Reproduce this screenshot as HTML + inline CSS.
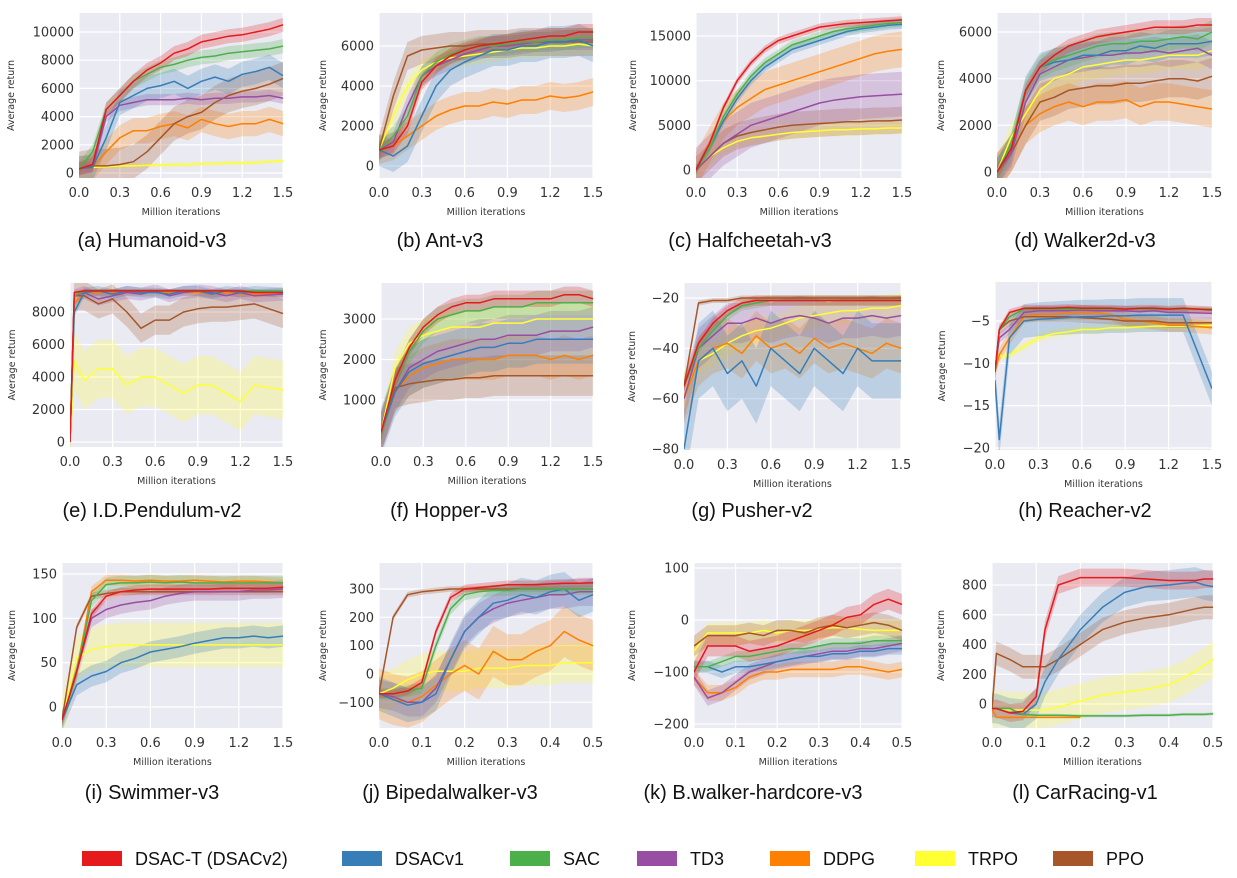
<!DOCTYPE html>
<html><head><meta charset="utf-8">
<style>
html,body{margin:0;padding:0;background:#fff;}
svg{display:block;font-family:"DejaVu Sans","Liberation Sans",sans-serif;}
</style></head>
<body>
<svg id="fig" width="1237" height="878" viewBox="0 0 1237 878" xmlns="http://www.w3.org/2000/svg"></svg>
<script>
// ---- shared x grids ----
const X15 = [0,0.1,0.2,0.3,0.4,0.5,0.6,0.7,0.8,0.9,1.0,1.1,1.2,1.3,1.4,1.5];
const X05 = [0,0.033,0.067,0.1,0.133,0.167,0.2,0.233,0.267,0.3,0.333,0.367,0.4,0.433,0.467,0.5];
const XE = [0,0.03,0.1,0.2,0.3,0.4,0.5,0.6,0.7,0.8,0.9,1.0,1.1,1.2,1.3,1.5];
const XL = [0,0.01,0.04,0.07,0.1,0.12,0.15,0.2,0.25,0.3,0.35,0.4,0.43,0.46,0.48,0.5];
const TICKS15 = [0,0.3,0.6,0.9,1.2,1.5];
const TICKS05 = [0,0.1,0.2,0.3,0.4,0.5];
const seriesNames = ["DSAC-T (DSACv2)","DSACv1","SAC","TD3","DDPG","TRPO","PPO"];
const seriesKeys = ["red","blue","green","purple","orange","yellow","brown"];

// (a) Humanoid
const a_red=[300,600,4500,5500,6500,7300,7800,8500,8800,9300,9500,9700,9800,10000,10200,10500];
const a_blue=[300,400,2500,5000,5500,6000,6200,6500,6000,6500,6800,6500,7000,7200,7500,6900];
const a_green=[300,1500,4500,5500,6500,7000,7500,7700,8000,8200,8300,8500,8600,8700,8800,9000];
const a_purple=[300,400,4000,4800,5000,5200,5200,5200,5300,5200,5300,5300,5400,5400,5500,5300];
const a_orange=[300,400,1500,2500,3000,3000,3300,3500,3200,3800,3500,3300,3500,3500,3800,3500];
const a_yellow=[300,400,450,500,500,550,550,600,600,650,650,700,700,750,800,850];
const a_brown=[300,500,500,600,800,1500,2500,3500,4000,4300,5000,5500,5800,6000,6300,6700];
const a_band=[500,900,500,400,900,150,1200];
const a_yticks=[0,2000,4000,6000,8000,10000];
// (b) Ant
const b_red=[800,1000,2000,4200,5000,5500,5800,6000,6100,6200,6300,6400,6500,6500,6700,6700];
const b_blue=[800,500,1000,2500,4000,4800,5200,5500,5800,5800,6000,6000,6200,6200,6300,6000];
const b_green=[800,1500,2500,4500,5200,5600,5800,6000,6000,6100,6200,6200,6300,6300,6400,6400];
const b_purple=[800,1200,3000,4500,5000,5300,5600,5800,6000,6000,6100,6200,6200,6300,6300,6300];
const b_orange=[800,1000,1500,2000,2500,2800,3000,3000,3200,3100,3300,3300,3500,3400,3500,3700];
const b_yellow=[800,2500,4000,4800,5200,5400,5500,5600,5700,5800,5900,5900,6000,6000,6100,6000];
const b_brown=[800,3500,5500,5800,5900,6000,6000,6100,6100,6100,6200,6200,6200,6200,6200,6200];
const b_band=[400,800,500,500,700,500,700];
const b_yticks=[0,2000,4000,6000];
// (c) Halfcheetah
const c_red=[0,3000,7000,10000,12000,13500,14500,15000,15500,16000,16200,16400,16500,16600,16700,16800];
const c_blue=[0,2500,5500,8000,10000,11500,12500,13500,14000,14500,15000,15500,15800,16000,16200,16300];
const c_green=[0,2500,6000,8500,10500,12000,13000,14000,14500,15000,15500,15800,16000,16200,16400,16500];
const c_purple=[0,1500,3000,4000,5000,5500,6000,6500,7000,7500,7800,8000,8200,8300,8400,8500];
const c_orange=[0,2800,5500,7000,8000,9000,9500,10000,10500,11000,11500,12000,12500,13000,13300,13500];
const c_yellow=[0,1500,2500,3200,3600,3800,4000,4200,4300,4400,4500,4500,4600,4600,4700,4700];
const c_brown=[0,1500,3000,3800,4200,4500,4800,5000,5100,5200,5300,5400,5400,5500,5500,5600];
const c_band=[400,500,500,2500,2000,700,1500];
const c_yticks=[0,5000,10000,15000];
// (d) Walker2d
const d_red=[0,1000,3500,4500,5000,5400,5600,5800,5900,6000,6100,6200,6200,6200,6300,6300];
const d_blue=[0,1000,3500,4500,4700,4800,5000,5000,5200,5200,5400,5300,5500,5500,5500,5600];
const d_green=[0,1200,3500,4500,4800,5000,5200,5400,5500,5500,5600,5600,5700,5800,5700,6000];
const d_purple=[0,800,3000,4200,4500,4800,4900,5000,5000,5100,5100,5200,5100,5200,5300,5000];
const d_orange=[0,800,2000,2500,2800,3000,2800,3000,3000,3100,2800,3000,3000,2900,2800,2700];
const d_yellow=[0,1500,2500,3500,4000,4200,4500,4600,4700,4800,4800,4900,5000,5000,5000,5200];
const d_brown=[0,800,2000,3000,3200,3500,3600,3700,3700,3800,3800,3900,4000,4000,3900,4100];
const d_band=[300,600,500,600,800,600,800];
const d_yticks=[0,2000,4000,6000];
// (e) I.D.Pendulum
const e_red=[0,9200,9300,9300,9300,9300,9300,9300,9300,9300,9300,9300,9300,9300,9200,9200];
const e_blue=[0,8000,9200,9300,9100,9300,9200,9200,9100,9300,9300,9100,9300,9200,9300,9200];
const e_green=[0,9000,9300,9300,9300,9300,9300,9300,9300,9300,9300,9300,9300,9300,9300,9300];
const e_purple=[0,9000,9200,8800,9000,9200,9100,9300,9000,9200,9300,9200,9000,9200,9000,9100];
const e_orange=[0,8500,9200,9200,9200,9200,9200,9200,9200,9200,9200,9100,9200,9100,9100,9100];
const e_yellow=[0,5000,3800,4500,4500,3500,4000,4000,3500,3000,3500,3500,3000,2500,3500,3200];
const e_brown=[0,9000,9000,8500,8800,8000,7000,7500,7500,8000,8200,8300,8300,8400,8500,7900];
const e_band=[100,300,100,400,200,1800,900];
const e_yticks=[0,2000,4000,6000,8000];
// (f) Hopper
const f_red=[200,1500,2300,2800,3100,3300,3400,3400,3500,3500,3500,3500,3500,3600,3600,3500];
const f_blue=[200,1200,1700,1900,2000,2100,2200,2300,2300,2400,2400,2500,2500,2500,2500,2500];
const f_green=[200,1500,2200,2700,3000,3100,3200,3200,3300,3300,3300,3400,3400,3400,3400,3400];
const f_purple=[200,1200,1800,2000,2200,2300,2400,2500,2500,2600,2600,2600,2700,2700,2700,2800];
const f_orange=[200,1200,1600,1800,1900,2000,2000,2000,2000,2100,2100,2100,2000,2100,2000,2100];
const f_yellow=[200,1800,2400,2600,2700,2800,2800,2800,2900,2900,2900,3000,3000,3000,3000,3000];
const f_brown=[200,1300,1400,1450,1500,1500,1550,1550,1600,1600,1600,1600,1600,1600,1600,1600];
const f_band=[200,600,300,500,500,400,500];
const f_yticks=[1000,2000,3000];
// (g) Pusher
const g_red=[-55,-38,-30,-25,-22,-21,-21,-21,-21,-21,-21,-21,-21,-21,-21,-21];
const g_blue=[-80,-45,-40,-50,-45,-55,-40,-45,-50,-40,-45,-50,-40,-45,-45,-45];
const g_green=[-55,-40,-33,-27,-23,-22,-21,-21,-21,-21,-21,-21,-21,-21,-21,-21];
const g_purple=[-60,-40,-35,-30,-30,-28,-30,-28,-27,-28,-30,-28,-28,-27,-28,-27];
const g_orange=[-60,-45,-40,-38,-42,-35,-40,-38,-42,-36,-40,-38,-40,-42,-38,-40];
const g_yellow=[-60,-45,-42,-38,-35,-33,-32,-30,-28,-27,-26,-25,-25,-24,-24,-23];
const g_brown=[-55,-22,-21,-21,-20,-20,-20,-20,-20,-20,-20,-20,-20,-20,-20,-20];
const g_band=[2,15,2,8,10,5,1];
const g_yticks=[-80,-60,-40,-20];
// (h) Reacher
const h_red=[-11,-6,-4,-3.5,-3.5,-3.5,-3.4,-3.5,-3.5,-3.5,-3.6,-3.5,-3.5,-3.6,-3.5,-3.7];
const h_blue=[-12,-19,-7,-5,-4.8,-4.7,-4.6,-4.5,-4.5,-4.4,-4.4,-4.3,-4.3,-4.3,-4.3,-13];
const h_green=[-11,-6,-4.5,-3.6,-3.6,-3.6,-3.6,-3.6,-3.6,-3.6,-3.6,-3.6,-3.6,-3.6,-3.6,-3.6];
const h_purple=[-11,-7,-6,-4,-3.8,-3.8,-3.8,-3.7,-3.8,-3.8,-3.8,-3.9,-3.8,-4,-4,-4.1];
const h_orange=[-11,-9,-7,-4.5,-4.2,-4.2,-4,-4,-4,-4.2,-4.8,-5,-5.2,-5.5,-5.5,-5.8];
const h_yellow=[-10,-9.2,-9,-8,-7,-6.5,-6.3,-6,-6,-5.8,-5.8,-5.7,-5.6,-5.6,-5.6,-5.5];
const h_brown=[-11,-6,-5,-4.5,-4.5,-4.5,-4.5,-4.6,-4.7,-4.8,-5,-5,-5,-5.2,-5.2,-5.2];
const h_band=[0.4,2,0.3,0.6,0.8,0.5,0.6];
const h_yticks=[-20,-15,-10,-5];
// (i) Swimmer
const i_red=[-15,40,105,125,130,132,133,133,133,133,133,134,134,134,134,135];
const i_blue=[-15,25,35,40,50,55,62,65,68,72,75,78,78,80,78,80];
const i_green=[-15,40,120,138,140,140,141,140,141,140,140,140,140,140,140,140];
const i_purple=[-15,40,100,110,115,118,120,125,128,130,130,130,130,132,132,133];
const i_orange=[-15,40,130,143,143,142,143,142,142,143,142,141,142,142,141,140];
const i_yellow=[-15,55,65,68,70,70,70,70,70,70,70,70,70,70,70,70];
const i_brown=[-15,90,125,128,130,130,130,130,130,130,130,130,130,130,130,130];
const i_band=[5,12,8,10,6,25,4];
const i_yticks=[0,50,100,150];
// (j) Bipedalwalker
const j_red=[-70,-70,-60,-30,150,270,300,305,310,315,315,315,318,320,320,322];
const j_blue=[-70,-90,-110,-100,-70,50,150,200,250,260,280,270,290,300,260,280];
const j_green=[-70,-70,-60,-50,100,230,280,290,295,295,300,300,300,300,300,300];
const j_purple=[-70,-80,-100,-100,-50,50,150,200,230,250,260,270,280,280,290,290];
const j_orange=[-70,-90,-100,-80,-40,0,30,0,80,50,50,80,100,150,120,100];
const j_yellow=[-70,-50,-20,0,10,10,10,20,20,20,30,30,30,40,40,40];
const j_brown=[-70,200,280,290,295,300,300,300,300,300,300,300,300,300,300,300];
const j_band=[15,60,20,50,90,70,10];
const j_yticks=[-100,0,100,200,300];
// (k) B.walker-hardcore
const k_red=[-100,-50,-50,-50,-60,-55,-50,-40,-30,-20,-10,5,10,30,40,30];
const k_blue=[-90,-90,-100,-90,-90,-85,-80,-75,-70,-70,-65,-65,-60,-60,-55,-55];
const k_green=[-90,-90,-80,-70,-70,-65,-60,-55,-55,-50,-45,-45,-45,-40,-40,-40];
const k_purple=[-110,-150,-140,-120,-100,-90,-80,-75,-70,-65,-60,-60,-55,-55,-50,-45];
const k_orange=[-110,-140,-140,-130,-110,-100,-100,-95,-95,-95,-95,-90,-90,-95,-100,-95];
const k_yellow=[-60,-25,-25,-25,-25,-20,-25,-20,-20,-18,-15,-15,-18,-20,-20,-20];
const k_brown=[-50,-30,-30,-30,-25,-30,-20,-20,-25,-15,-10,-15,-10,-5,-10,-20];
const k_band=[20,12,10,15,15,20,20];
const k_yticks=[-200,-100,0,100];
// (l) CarRacing
const l_red=[-30,-30,-60,-50,50,500,800,850,850,850,840,830,830,830,840,840];
const l_blue=[-30,-30,-60,-70,0,150,300,500,650,750,790,800,810,820,800,790];
const l_green=[-30,-30,-30,-70,-75,-75,-75,-80,-80,-80,-75,-75,-70,-70,-70,-65];
const l_purple=[null,null,null,null,null,null,null,null,null,null,null,null,null,null,null,null];
const l_orange=[-30,-90,-90,-90,-90,-90,-90,-90,null,null,null,null,null,null,null,null];
const l_yellow=[-30,-30,-40,-40,-40,-40,-20,20,60,80,100,130,170,220,260,300];
const l_brown=[-30,340,300,250,250,250,300,400,500,550,580,600,620,640,650,650];
const l_band=[60,100,10,0,5,120,80];
const l_yticks=[0,200,400,600,800];

const colors={red:"#e41a1c",blue:"#377eb8",green:"#4daf4a",purple:"#984ea3",orange:"#ff7f00",yellow:"#ffff33",brown:"#a65628"};
const drawOrder=["yellow","orange","brown","purple","blue","green","red"];

const panels=[
 {id:"a",cap:"(a) Humanoid-v3",x:X15,xt:TICKS15,xmax:1.5,L:79,R:283,T:13,B:178,v1:0,p1:173,v2:10000,p2:32,yt:a_yticks,tx:14,cx:152,cy:247},
 {id:"b",cap:"(b) Ant-v3",x:X15,xt:TICKS15,xmax:1.5,L:379,R:593,T:13,B:178,v1:0,p1:166,v2:6000,p2:46,yt:b_yticks,tx:326,cx:440,cy:247},
 {id:"c",cap:"(c) Halfcheetah-v3",x:X15,xt:TICKS15,xmax:1.5,L:696,R:902,T:13,B:178,v1:0,p1:170,v2:15000,p2:36,yt:c_yticks,tx:636,cx:750,cy:247},
 {id:"d",cap:"(d) Walker2d-v3",x:X15,xt:TICKS15,xmax:1.5,L:997,R:1212,T:13,B:178,v1:0,p1:172,v2:6000,p2:32,yt:d_yticks,tx:944,cx:1085,cy:247},
 {id:"e",cap:"(e) I.D.Pendulum-v2",x:XE,xt:TICKS15,xmax:1.5,L:70,R:283,T:283,B:447,v1:0,p1:442,v2:8000,p2:312,yt:e_yticks,tx:15,cx:152,cy:517},
 {id:"f",cap:"(f) Hopper-v3",x:X15,xt:TICKS15,xmax:1.5,L:381,R:593,T:283,B:447,v1:1000,p1:400,v2:3000,p2:319,yt:f_yticks,tx:326,cx:449,cy:517},
 {id:"g",cap:"(g) Pusher-v2",x:X15,xt:TICKS15,xmax:1.5,L:684,R:901,T:283,B:450,v1:-20,p1:298,v2:-80,p2:449,yt:g_yticks,tx:635,cx:752,cy:517},
 {id:"h",cap:"(h) Reacher-v2",x:XE,xt:TICKS15,xmax:1.5,L:995,R:1212,T:282,B:450,v1:-5,p1:321,v2:-20,p2:448,yt:h_yticks,tx:945,cx:1085,cy:517},
 {id:"i",cap:"(i) Swimmer-v3",x:X15,xt:TICKS15,xmax:1.5,L:62,R:283,T:563,B:728,v1:0,p1:707,v2:150,p2:574,yt:i_yticks,tx:15,cx:152,cy:799},
 {id:"j",cap:"(j) Bipedalwalker-v3",x:X05,xt:TICKS05,xmax:0.5,L:379,R:593,T:563,B:728,v1:0,p1:674,v2:300,p2:589,yt:j_yticks,tx:326,cx:450,cy:799},
 {id:"k",cap:"(k) B.walker-hardcore-v3",x:X05,xt:TICKS05,xmax:0.5,L:694,R:902,T:563,B:728,v1:100,p1:568,v2:-200,p2:724,yt:k_yticks,tx:635,cx:753,cy:799},
 {id:"l",cap:"(l) CarRacing-v1",x:XL,xt:TICKS05,xmax:0.5,L:992,R:1213,T:563,B:728,v1:0,p1:704,v2:800,p2:585,yt:l_yticks,tx:944,cx:1085,cy:799}
];
const panelData={
 a:{red:a_red,blue:a_blue,green:a_green,purple:a_purple,orange:a_orange,yellow:a_yellow,brown:a_brown,band:a_band},
 b:{red:b_red,blue:b_blue,green:b_green,purple:b_purple,orange:b_orange,yellow:b_yellow,brown:b_brown,band:b_band},
 c:{red:c_red,blue:c_blue,green:c_green,purple:c_purple,orange:c_orange,yellow:c_yellow,brown:c_brown,band:c_band},
 d:{red:d_red,blue:d_blue,green:d_green,purple:d_purple,orange:d_orange,yellow:d_yellow,brown:d_brown,band:d_band},
 e:{red:e_red,blue:e_blue,green:e_green,purple:e_purple,orange:e_orange,yellow:e_yellow,brown:e_brown,band:e_band},
 f:{red:f_red,blue:f_blue,green:f_green,purple:f_purple,orange:f_orange,yellow:f_yellow,brown:f_brown,band:f_band},
 g:{red:g_red,blue:g_blue,green:g_green,purple:g_purple,orange:g_orange,yellow:g_yellow,brown:g_brown,band:g_band},
 h:{red:h_red,blue:h_blue,green:h_green,purple:h_purple,orange:h_orange,yellow:h_yellow,brown:h_brown,band:h_band},
 i:{red:i_red,blue:i_blue,green:i_green,purple:i_purple,orange:i_orange,yellow:i_yellow,brown:i_brown,band:i_band},
 j:{red:j_red,blue:j_blue,green:j_green,purple:j_purple,orange:j_orange,yellow:j_yellow,brown:j_brown,band:j_band},
 k:{red:k_red,blue:k_blue,green:k_green,purple:k_purple,orange:k_orange,yellow:k_yellow,brown:k_brown,band:k_band},
 l:{red:l_red,blue:l_blue,green:l_green,purple:l_purple,orange:l_orange,yellow:l_yellow,brown:l_brown,band:l_band}
};

const NS="http://www.w3.org/2000/svg";
const svg=document.getElementById("fig");
function mk(tag,attrs,parent){const e=document.createElementNS(NS,tag);for(const k in attrs)e.setAttribute(k,attrs[k]);(parent||svg).appendChild(e);return e;}

const defs=mk("defs",{});
panels.forEach(p=>{
  const xs=v=>p.L+(v/p.xmax)*(p.R-p.L);
  const ys=v=>p.p1+(v-p.v1)*(p.p2-p.p1)/(p.v2-p.v1);
  const g=mk("g",{});
  
  
  const cp=mk("clipPath",{id:"clip-"+p.id},defs);
  mk("rect",{x:p.L,y:p.T,width:p.R-p.L,height:p.B-p.T},cp);
  const bg=mk("rect",{x:p.L,y:p.T,width:p.R-p.L,height:p.B-p.T,fill:"#eaeaf2"},g);
  
  
  p.xt.forEach(t=>{
    const X=xs(t);
    mk("line",{x1:X,x2:X,y1:p.T,y2:p.B,stroke:"#fff","stroke-width":1.2},g);
    const tl=mk("text",{x:X,y:p.B+19,"text-anchor":"middle","font-size":13,fill:"#333"},g);
    tl.textContent=t.toFixed(1);
    
    
  });
  p.yt.forEach(t=>{
    const Y=ys(t);
    mk("line",{x1:p.L,x2:p.R,y1:Y,y2:Y,stroke:"#fff","stroke-width":1.2},g);
    const tl=mk("text",{x:p.L-5,y:Y+4.5,"text-anchor":"end","font-size":13,fill:"#333"},g);
    tl.textContent=t<0?"\u2212"+Math.abs(t):String(t);
    
    
  });
  const d=panelData[p.id];
  const cg=mk("g",{"clip-path":"url(#clip-"+p.id+")"},g);
  drawOrder.forEach(k=>{
    const vals=d[k];const bw=d.band[seriesKeys.indexOf(k)];
    const pts=[];
    vals.forEach((v,i)=>{if(v!==null)pts.push([xs(p.x[i]),v]);});
    if(pts.length<2)return;
    if(bw>0){
      const up=pts.map(q=>q[0].toFixed(1)+","+ys(q[1]+bw).toFixed(1));
      const dn=pts.slice().reverse().map(q=>q[0].toFixed(1)+","+ys(q[1]-bw).toFixed(1));
      const band=mk("polygon",{points:up.concat(dn).join(" "),fill:colors[k],"fill-opacity":0.25,stroke:"none"},cg);
      
      
    }
  });
  drawOrder.forEach(k=>{
    const vals=d[k];
    const pts=[];
    vals.forEach((v,i)=>{if(v!==null)pts.push(xs(p.x[i]).toFixed(1)+","+ys(v).toFixed(1));});
    if(pts.length<2)return;
    const ln=mk("polyline",{points:pts.join(" "),fill:"none",stroke:colors[k],"stroke-width":1.5,"stroke-linejoin":"round"},cg);
    
    
  });
  const yt=mk("text",{x:p.tx,y:(p.T+p.B)/2,"text-anchor":"middle","font-size":9.5,fill:"#333",transform:"rotate(-90 "+p.tx+" "+((p.T+p.B)/2)+")"},g);
  yt.textContent="Average return";
  
  
  const xt=mk("text",{x:(p.L+p.R)/2,y:p.B+37,"text-anchor":"middle","font-size":9.5,fill:"#333"},g);
  xt.textContent="Million iterations";
  
  
  const cap=mk("text",{x:p.cx,y:p.cy,"text-anchor":"middle","font-size":20,fill:"#111","font-family":"Liberation Sans, sans-serif"},g);
  cap.textContent=p.cap;
  
  
});

// legend
const legX=[82,342,510,637,770,915,1053];
const lg=mk("g",{});


seriesKeys.forEach((k,i)=>{
  const r=mk("rect",{x:legX[i],y:851,width:40,height:15,fill:colors[k]},lg);
  
  
  const t=mk("text",{x:legX[i]+53,y:865,"font-size":18,fill:"#111","font-family":"Liberation Sans, sans-serif"},lg);
  t.textContent=seriesNames[i];
  
  
});
</script>
</body></html>
